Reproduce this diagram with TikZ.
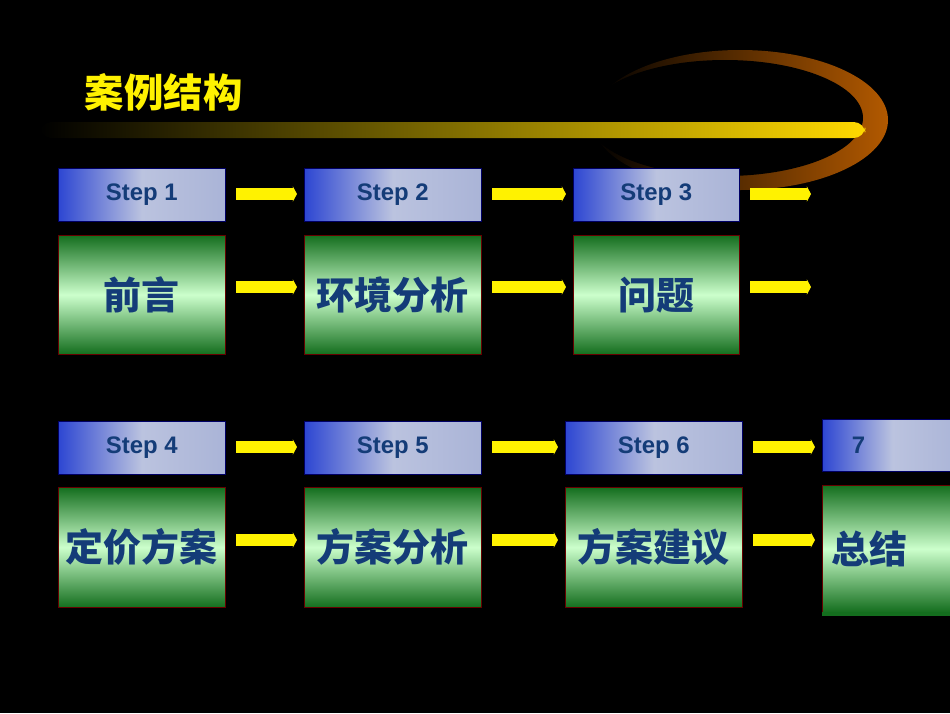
\documentclass[tikz,border=0pt]{standalone}
\usepackage{fontspec}
\setmainfont{Liberation Sans}
\newfontfamily\cjk{Noto Sans CJK SC}
\usetikzlibrary{arrows.meta,shapes.geometric}
\definecolor{txtblue}{RGB}{20,60,120}
\definecolor{boxgreen}{RGB}{20,110,30}
\definecolor{boxblue}{RGB}{45,70,210}
\definecolor{boxgrey}{RGB}{170,180,215}
\tikzset{
    stepbox/.style={draw=blue!40!black, anchor=north west, inner sep=0pt,
        left color=boxblue, right color=boxgrey, middle color=boxgrey!80!white,
        text=txtblue, font=\bfseries\fontsize{17}{17}\selectfont},
    textbox/.style={draw=red!40!black, anchor=north west, inner sep=0pt,
        top color=boxgreen, bottom color=boxgreen, middle color=white!80!green,
        text=txtblue, font=\cjk\bfseries\fontsize{27}{27}\selectfont},
    yarrow/.style={draw=yellow, line width=8.5pt,
        -{Triangle[length=3pt,width=11pt]}, shorten <=7.5pt, shorten >=5pt}
}
\begin{document}
\begin{tikzpicture}[x=0.025cm, y=-0.025cm]
\useasboundingbox[fill=black] (0,0) rectangle (950,713);

% title and glow
\shade[left color=black, right color=orange!70!black] (740,120) ellipse (148 and 70);
\fill[black] (725,118) ellipse (138 and 58);
\shade[left color=black, right color=yellow!70!orange, rounded corners=8]
    (40,122) rectangle (865,138);
\node (title) [anchor=west, text=yellow, font=\cjk\bfseries\fontsize{28}{28}\selectfont]
    at (80,92) {案例结构};

% Row 1
\node (s1) [stepbox, minimum width=167*0.025cm, minimum height=53*0.025cm] at (58,168) {Step 1};
\node (s2) [stepbox, minimum width=177*0.025cm, minimum height=53*0.025cm] at (304,168) {Step 2};
\node (s3) [stepbox, minimum width=166*0.025cm, minimum height=53*0.025cm] at (573,168) {Step 3};
\node (t1) [textbox, minimum width=167*0.025cm, minimum height=119*0.025cm] at (58,235) {前言};
\node (t2) [textbox, minimum width=177*0.025cm, minimum height=119*0.025cm] at (304,235) {环境分析};
\node (t3) [textbox, minimum width=166*0.025cm, minimum height=119*0.025cm] at (573,235) {问题};
\coordinate (e1) at (811,194);
\coordinate (e2) at (811,287);

% Row 2
\node (s4) [stepbox, minimum width=167*0.025cm, minimum height=53*0.025cm] at (58,421) {Step 4};
\node (s5) [stepbox, minimum width=177*0.025cm, minimum height=53*0.025cm] at (304,421) {Step 5};
\node (s6) [stepbox, minimum width=177*0.025cm, minimum height=53*0.025cm] at (565,421) {Step 6};
\node (s7) [stepbox, minimum width=140*0.025cm, minimum height=52*0.025cm,
    text width=120*0.025cm, align=left] at (822,419) {\hspace{14pt}7};
\node (t4) [textbox, minimum width=167*0.025cm, minimum height=120*0.025cm] at (58,487) {定价方案};
\node (t5) [textbox, minimum width=177*0.025cm, minimum height=120*0.025cm] at (304,487) {方案分析};
\node (t6) [textbox, minimum width=177*0.025cm, minimum height=120*0.025cm] at (565,487) {方案建议};
\node (t7) [textbox, minimum width=140*0.025cm, minimum height=127*0.025cm,
    text width=130*0.025cm, align=left] at (822,485) {\hspace{3pt}总结};
\fill[boxgreen] (822,612) rectangle (950,616);

% arrows
\draw [yarrow] (s1.east |- 0,194) -- (s2.west |- 0,194);
\draw [yarrow] (s2.east |- 0,194) -- (s3.west |- 0,194);
\draw [yarrow, shorten >=0pt] (s3.east |- 0,194) -- (e1);
\draw [yarrow] (t1.east |- 0,287) -- (t2.west |- 0,287);
\draw [yarrow] (t2.east |- 0,287) -- (t3.west |- 0,287);
\draw [yarrow, shorten >=0pt] (t3.east |- 0,287) -- (e2);
\draw [yarrow] (s4.east |- 0,447) -- (s5.west |- 0,447);
\draw [yarrow] (s5.east |- 0,447) -- (s6.west |- 0,447);
\draw [yarrow] (s6.east |- 0,447) -- (s7.west |- 0,447);
\draw [yarrow] (t4.east |- 0,540) -- (t5.west |- 0,540);
\draw [yarrow] (t5.east |- 0,540) -- (t6.west |- 0,540);
\draw [yarrow] (t6.east |- 0,540) -- (t7.west |- 0,540);

\end{tikzpicture}
\end{document}
